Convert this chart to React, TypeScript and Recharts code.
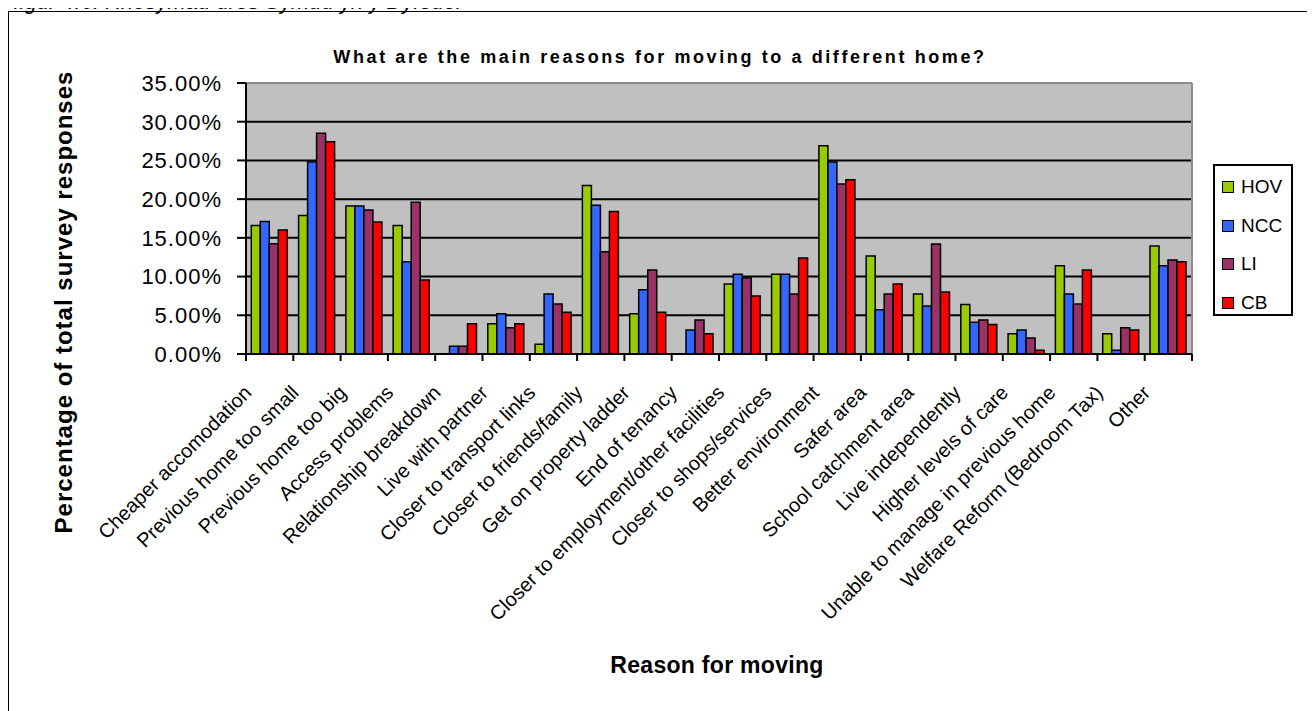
import React from "react";
import { BarChart, Bar, XAxis, YAxis, CartesianGrid, Legend } from "recharts";

const categories = [
  "Cheaper accomodation",
  "Previous home too small",
  "Previous home too big",
  "Access problems",
  "Relationship breakdown",
  "Live with partner",
  "Closer to transport links",
  "Closer to friends/family",
  "Get on property ladder",
  "End of tenancy",
  "Closer to employment/other facilities",
  "Closer to shops/services",
  "Better environment",
  "Safer area",
  "School catchment area",
  "Live independently",
  "Higher levels of care",
  "Unable to manage in previous home",
  "Welfare Reform (Bedroom Tax)",
  "Other",
];

const hov = [16.6, 17.9, 19.1, 16.6, null, 3.9, 1.25, 21.75, 5.2, null, 9.05, 10.3, 26.9, 12.66, 7.75, 6.4, 2.6, 11.4, 2.6, 13.95];
const ncc = [17.1, 24.8, 19.1, 11.9, 1.0, 5.2, 7.75, 19.2, 8.3, 3.1, 10.3, 10.3, 24.8, 5.7, 6.2, 4.1, 3.1, 7.75, 0.5, 11.4];
const li = [14.25, 28.5, 18.6, 19.6, 1.0, 3.4, 6.45, 13.2, 10.85, 4.4, 9.8, 7.75, 21.96, 7.75, 14.2, 4.4, 2.07, 6.45, 3.4, 12.15];
const cb = [16.0, 27.4, 17.05, 9.55, 3.9, 3.9, 5.4, 18.4, 5.4, 2.6, 7.5, 12.4, 22.5, 9.05, 8.0, 3.8, 0.5, 10.85, 3.1, 11.9];

const yTicks = [0, 5, 10, 15, 20, 25, 30, 35];

const seriesNames = ["HOV", "NCC", "LI", "CB"];
const seriesColors = ["#99CC00", "#3366FF", "#993366", "#FF0000"];

const data = categories.map((c, i) => ({
  name: c,
  HOV: hov[i],
  NCC: ncc[i],
  LI: li[i],
  CB: cb[i],
}));

const FONT = "'Liberation Sans', Arial, sans-serif";

const CHART_W = 1303;
const CHART_H = 703;
const PLOT_LEFT = 238;
const PLOT_RIGHT = 1184;
const PLOT_TOP = 75;
const PLOT_BOTTOM = 346;
const BAND = (PLOT_RIGHT - PLOT_LEFT) / categories.length;
const LEGEND_W = 80;
const LEGEND_H = 152;

const XTick = (props: any) => {
  const { x, y, payload, index } = props;
  const half = BAND / 2;
  return (
    <g>
      <line x1={x - half} y1={y} x2={x - half} y2={y + 7} stroke="#000" strokeWidth={2} />
      {index === categories.length - 1 && (
        <line x1={x + half} y1={y} x2={x + half} y2={y + 7} stroke="#000" strokeWidth={2} />
      )}
      <g transform={`translate(${x - 17},${y + 40})`}>
        <text
          transform="rotate(-45)"
          textAnchor="end"
          fontFamily={FONT}
          fontSize={20}
          fill="#000"
        >
          {payload.value}
        </text>
      </g>
    </g>
  );
};

const LegendContent = (props: any) => {
  const payload = [...(props.payload || [])].sort(
    (a: any, b: any) => seriesNames.indexOf(a.value) - seriesNames.indexOf(b.value)
  );
  return (
    <div
      style={{
        position: "absolute",
        left: 1205,
        top: 156,
        width: LEGEND_W,
        height: LEGEND_H,
        border: "2px solid #000",
        background: "#fff",
        boxSizing: "border-box",
        paddingTop: 2,
      }}
    >
      {payload.map((p: any) => (
        <div
          key={p.value}
          style={{
            display: "flex",
            alignItems: "center",
            height: 38.5,
            fontFamily: FONT,
            fontSize: 19,
            color: "#000",
          }}
        >
          <span
            style={{
              display: "inline-block",
              width: 10,
              height: 10,
              background: p.color,
              border: "1.5px solid #000",
              marginLeft: 7,
              marginRight: 7,
            }}
          />
          {p.value}
        </div>
      ))}
    </div>
  );
};

export default function App() {
  return (
    <div style={{ position: "relative", width: CHART_W, height: CHART_H, fontFamily: FONT }}>
      <div
        style={{
          position: "absolute",
          left: -8,
          top: -17,
          fontSize: 22,
          lineHeight: "22px",
          fontFamily: FONT,
          fontStyle: "italic",
          whiteSpace: "nowrap",
        }}
      >
        Ffigur 4.6: Rhesymau dros Symud yn y Dyfodol
      </div>
      <div
        style={{
          position: "absolute",
          left: 0,
          top: 3,
          width: CHART_W + 1,
          height: 720,
          border: "1.5px solid #000",
          boxSizing: "border-box",
        }}
      />
      <div style={{ position: "absolute", left: 0, top: 0 }}>
        <BarChart
          width={CHART_W}
          height={CHART_H}
          data={data}
          margin={{ top: PLOT_TOP, right: CHART_W - PLOT_RIGHT, left: 0, bottom: CHART_H - PLOT_BOTTOM - 200 }}
          barCategoryGap="11.2%"
          barGap={0}
        >
          <CartesianGrid
            fill="#C0C0C0"
            fillOpacity={1}
            vertical={false}
            horizontalValues={[5, 10, 15, 20, 25, 30]}
            stroke="#000"
            strokeWidth={2}
          />
          <CartesianGrid
            horizontalValues={[35]}
            verticalPoints={[PLOT_RIGHT]}
            stroke="#8c8c8c"
            strokeWidth={2}
          />
          <XAxis
            dataKey="name"
            interval={0}
            height={200}
            tickSize={0}
            tickMargin={0}
            tickLine={false}
            axisLine={{ stroke: "#000", strokeWidth: 2 }}
            tick={<XTick />}
            label={{
              value: "Reason for moving",
              position: "insideBottom",
              offset: 0,
              content: () => (
                <text
                  x={(PLOT_LEFT + PLOT_RIGHT) / 2 - 2}
                  y={665}
                  textAnchor="middle"
                  fontFamily={FONT}
                  fontSize={23}
                  fontWeight="bold"
                  letterSpacing={0.3}
                  fill="#000"
                >
                  Reason for moving
                </text>
              ),
            }}
          />
          <YAxis
            width={PLOT_LEFT}
            domain={[0, 35]}
            ticks={yTicks}
            interval={0}
            tickSize={9}
            tickMargin={15}
            tickFormatter={(v: number) => `${v.toFixed(2)}%`}
            tick={{ fontFamily: FONT, fontSize: 22, fill: "#000", letterSpacing: 1 }}
            tickLine={{ stroke: "#000", strokeWidth: 2 }}
            axisLine={{ stroke: "#000", strokeWidth: 2 }}
            label={{
              value: "Percentage of total survey responses",
              content: () => (
                <text
                  x={55}
                  y={294}
                  transform="rotate(-90, 55, 294)"
                  textAnchor="middle"
                  dominantBaseline="central"
                  fontFamily={FONT}
                  fontSize={24}
                  fontWeight="bold"
                  letterSpacing={1}
                  fill="#000"
                >
                  Percentage of total survey responses
                </text>
              ),
            }}
          />
          <Legend
            content={<LegendContent />}
            wrapperStyle={{ position: "absolute", left: 0, top: 0, width: 0, height: 0, overflow: "visible" }}
          />
          {seriesNames.map((s, i) => (
            <Bar
              key={s}
              dataKey={s}
              name={s}
              fill={seriesColors[i]}
              stroke="#000"
              strokeWidth={1.5}
              isAnimationActive={false}
            />
          ))}
          <text
            x={652}
            y={55}
            textAnchor="middle"
            fontFamily={FONT}
            fontSize={18}
            fontWeight="bold"
            letterSpacing={2.6}
            fill="#000"
          >
            What are the main reasons for moving to a different home?
          </text>
        </BarChart>
      </div>
    </div>
  );
}
